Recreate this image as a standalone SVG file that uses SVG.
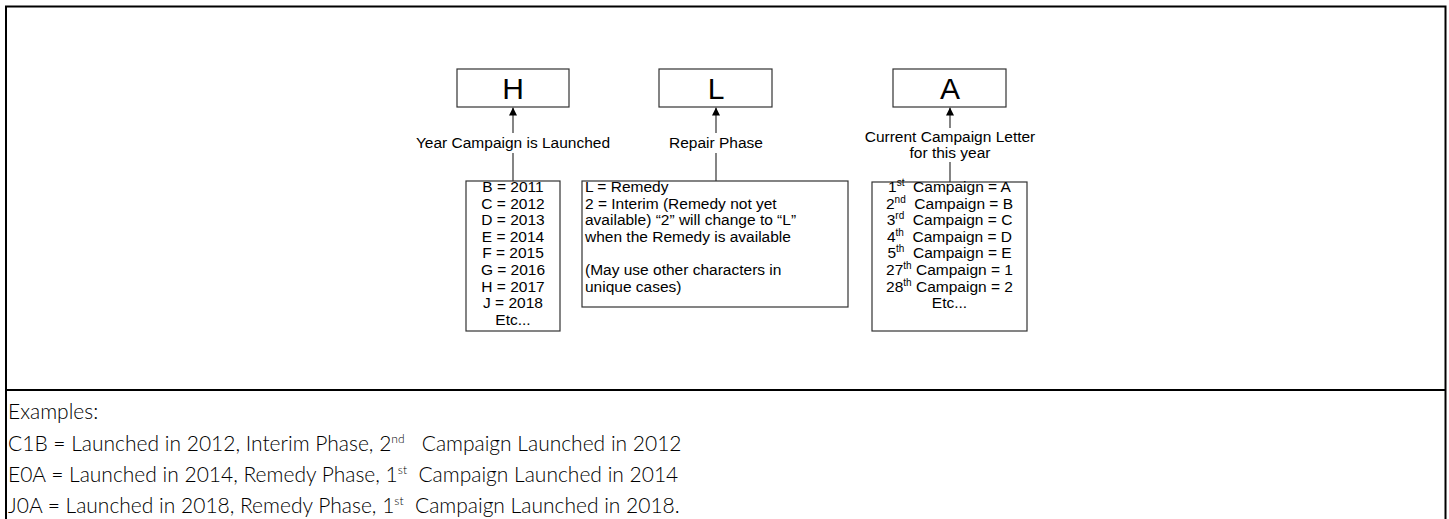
<svg xmlns="http://www.w3.org/2000/svg" width="1449" height="519" viewBox="0 0 1449 519">
<style>
.frame{fill:none;stroke:#000;stroke-width:2}
.box{fill:#fff;stroke:#333;stroke-width:1.2}
.big{font-family:"Liberation Sans",Arial,sans-serif;font-size:30px;fill:#000;text-anchor:middle}
.t{font-family:"Liberation Sans",Arial,sans-serif;font-size:15.5px;fill:#000}
.c{text-anchor:middle}
.conn{stroke:#333;stroke-width:1.2;fill:none}
.lbl{fill:#fff}
.ex{font-family:Lato,"Open Sans",sans-serif;font-weight:300;font-size:21px;fill:#000}
</style>
<defs>
<marker id="ah" viewBox="0 0 10 10" refX="10" refY="5" markerWidth="8" markerHeight="8" markerUnits="userSpaceOnUse" orient="auto">
<path d="M0,0 L10,5 L0,10 Z" fill="#000"/>
</marker>
</defs>
<rect class="frame" x="6" y="6.5" width="1439.5" height="530"/>
<line class="frame" x1="6" y1="390" x2="1445.5" y2="390"/>

<g id="connectors">
<line class="conn" x1="513" y1="181" x2="513" y2="107.5" marker-end="url(#ah)"/>
<line class="conn" x1="716" y1="181" x2="716" y2="107.5" marker-end="url(#ah)"/>
<line class="conn" x1="950" y1="182" x2="950" y2="107.5" marker-end="url(#ah)"/>
<rect class="lbl" x="405" y="133" width="216" height="20"/>
<text class="t c" x="513" y="148">Year Campaign is Launched</text>
<rect class="lbl" x="666" y="133" width="100" height="20"/>
<text class="t c" x="716" y="148">Repair Phase</text>
<rect class="lbl" x="860" y="128" width="180" height="34"/>
<text class="t c" x="950" y="142">Current Campaign Letter</text>
<text class="t c" x="950" y="158">for this year</text>
</g>

<g id="node-h">
<rect class="box" x="457" y="69" width="112" height="38"/>
<text class="big" x="513" y="99">H</text>
</g>
<g id="node-l">
<rect class="box" x="659" y="69" width="113" height="38"/>
<text class="big" x="716" y="99">L</text>
</g>
<g id="node-a">
<rect class="box" x="893" y="69" width="113" height="38"/>
<text class="big" x="950" y="99">A</text>
</g>

<g id="node-years">
<rect class="box" x="466" y="181" width="94" height="150"/>
<text class="t c" x="513" y="192">B = 2011</text>
<text class="t c" x="513" y="208.6">C = 2012</text>
<text class="t c" x="513" y="225.2">D = 2013</text>
<text class="t c" x="513" y="241.8">E = 2014</text>
<text class="t c" x="513" y="258.4">F = 2015</text>
<text class="t c" x="513" y="275">G = 2016</text>
<text class="t c" x="513" y="291.6">H = 2017</text>
<text class="t c" x="513" y="308.2">J = 2018</text>
<text class="t c" x="513" y="324.8">Etc...</text>
</g>

<g id="node-phase">
<rect class="box" x="582" y="181" width="266" height="126"/>
<text class="t" x="585" y="192">L = Remedy</text>
<text class="t" x="585" y="208.6">2 = Interim (Remedy not yet</text>
<text class="t" x="585" y="225.2">available) “2” will change to “L”</text>
<text class="t" x="585" y="241.8">when the Remedy is available</text>
<text class="t" x="585" y="275">(May use other characters in</text>
<text class="t" x="585" y="291.6">unique cases)</text>
</g>

<g id="node-letters">
<rect class="box" x="872" y="182" width="155" height="149"/>
<text class="t c" x="949.5" y="192" xml:space="preserve">1<tspan font-size="10" dy="-6">st</tspan><tspan dy="6">  Campaign = A</tspan></text>
<text class="t c" x="949.5" y="208.6" xml:space="preserve">2<tspan font-size="10" dy="-6">nd</tspan><tspan dy="6">  Campaign = B</tspan></text>
<text class="t c" x="949.5" y="225.2" xml:space="preserve">3<tspan font-size="10" dy="-6">rd</tspan><tspan dy="6">  Campaign = C</tspan></text>
<text class="t c" x="949.5" y="241.8" xml:space="preserve">4<tspan font-size="10" dy="-6">th</tspan><tspan dy="6">  Campaign = D</tspan></text>
<text class="t c" x="949.5" y="258.4" xml:space="preserve">5<tspan font-size="10" dy="-6">th</tspan><tspan dy="6">  Campaign = E</tspan></text>
<text class="t c" x="949.5" y="275" xml:space="preserve">27<tspan font-size="10" dy="-6">th</tspan><tspan dy="6"> Campaign = 1</tspan></text>
<text class="t c" x="949.5" y="291.6" xml:space="preserve">28<tspan font-size="10" dy="-6">th</tspan><tspan dy="6"> Campaign = 2</tspan></text>
<text class="t c" x="949.5" y="308.2">Etc...</text>
</g>

<g id="examples">
<text class="ex" x="8" y="419">Examples:</text>
<text class="ex" x="8" y="451" xml:space="preserve">C1B = Launched in 2012, Interim Phase, 2<tspan font-size="12" dy="-8">nd</tspan><tspan dy="8">   Campaign Launched in 2012</tspan></text>
<text class="ex" x="8" y="482" xml:space="preserve">E0A = Launched in 2014, Remedy Phase, 1<tspan font-size="12" dy="-8">st</tspan><tspan dy="8">  Campaign Launched in 2014</tspan></text>
<text class="ex" x="8" y="513" xml:space="preserve">J0A = Launched in 2018, Remedy Phase, 1<tspan font-size="12" dy="-8">st</tspan><tspan dy="8">  Campaign Launched in 2018.</tspan></text>
</g>
</svg>
